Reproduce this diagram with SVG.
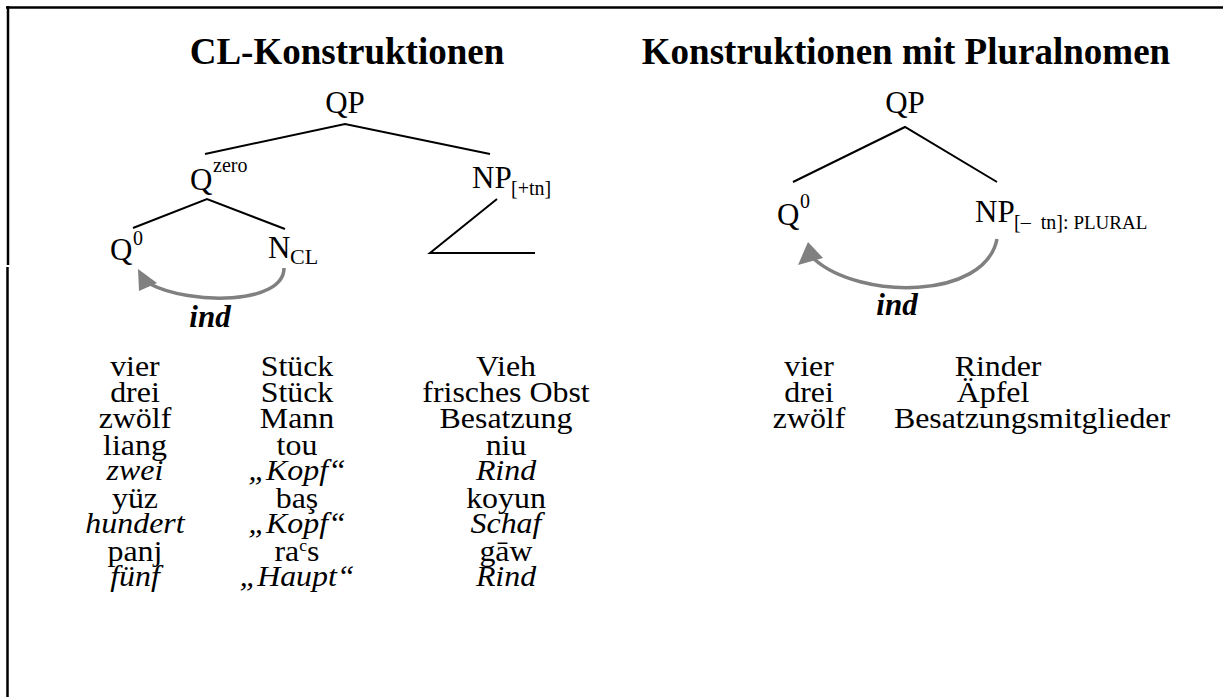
<svg xmlns="http://www.w3.org/2000/svg" width="1223" height="697" viewBox="0 0 1223 697">
<style>
text{font-family:"Liberation Serif","Times New Roman",serif;fill:#000}
.title{font-size:37px;font-weight:bold;text-anchor:middle}
.lbl{font-size:31px}
.sub{font-size:20px}
.sc{font-size:19px}
.ind{font-size:31px;font-weight:bold;font-style:italic;text-anchor:middle}
.row{font-size:29px;text-anchor:middle}
.it{font-style:italic}
.edge{stroke:#000;stroke-width:2;fill:none}
.arr{stroke:#808080;stroke-width:3.5;fill:none}
.head{fill:#808080;stroke:none}
.border{stroke:#000;stroke-width:2.5}
</style>
<g id="frame">
<line class="border" x1="6" y1="7.5" x2="1223" y2="7.5"/>
<line class="border" x1="8" y1="6" x2="8" y2="265"/>
<line class="border" x1="7.5" y1="267" x2="7.5" y2="697"/>
</g>
<g id="titles">
<text class="title" x="347" y="64">CL-Konstruktionen</text>
<text class="title" x="906" y="64">Konstruktionen mit Pluralnomen</text>
</g>
<g id="connectors">
<polyline class="edge" points="205,154 345,124 490,154"/>
<polyline class="edge" points="133,228 207,199 285,229"/>
<polyline class="edge" points="497,199 430,253 535,253"/>
<polyline class="edge" points="793,182 905,127 997,182"/>
<path class="arr" d="M284,268 C284,305 190,305 150,284"/>
<polygon class="head" points="138,269 139,291 157,283"/>
<path class="arr" d="M997,239 C985,300 860,300 814,259"/>
<polygon class="head" points="798,265 808,242 823,258"/>
</g>
<g id="node-qp-left"><text class="lbl" x="345" y="113" text-anchor="middle">QP</text></g>
<g id="node-qzero"><text class="lbl" x="190" y="190">Q</text><text class="sub" x="213" y="172">zero</text></g>
<g id="node-np-left"><text class="lbl" x="472" y="188">NP</text><text class="sub" x="511" y="195">[+tn]</text></g>
<g id="node-q0-left"><text class="lbl" x="110" y="260">Q</text><text class="sub" x="133" y="245">0</text></g>
<g id="node-ncl"><text class="lbl" x="268" y="258">N</text><text class="sub" x="290" y="264" style="font-size:22px">CL</text></g>
<g id="label-ind-left"><text class="ind" x="210" y="327">ind</text></g>
<g id="node-qp-right"><text class="lbl" x="905" y="113" text-anchor="middle">QP</text></g>
<g id="node-q0-right"><text class="lbl" x="777" y="225">Q</text><text class="sub" x="800" y="208">0</text></g>
<g id="node-np-right"><text class="lbl" x="975" y="222">NP</text><text class="sub" x="1014" y="229" style="white-space:pre">[–  tn]: <tspan class="sc">PLURAL</tspan></text></g>
<g id="label-ind-right"><text class="ind" x="897" y="315">ind</text></g>
<g id="table-left" transform="scale(1.1,1)">
<text class="row" x="122.7" y="376">vier</text><text class="row" x="270" y="376">Stück</text><text class="row" x="460" y="376">Vieh</text>
<text class="row" x="122.7" y="402">drei</text><text class="row" x="270" y="402">Stück</text><text class="row" x="460" y="402">frisches Obst</text>
<text class="row" x="122.7" y="428">zwölf</text><text class="row" x="270" y="428">Mann</text><text class="row" x="460" y="428">Besatzung</text>
<text class="row" x="122.7" y="455">liang</text><text class="row" x="270" y="455">tou</text><text class="row" x="460" y="455">niu</text>
<text class="row it" x="122.7" y="480">zwei</text><text class="row it" x="270" y="480">„Kopf“</text><text class="row it" x="460" y="480">Rind</text>
<text class="row" x="122.7" y="508">yüz</text><text class="row" x="270" y="508">baş</text><text class="row" x="460" y="508">koyun</text>
<text class="row it" x="122.7" y="533">hundert</text><text class="row it" x="270" y="533">„Kopf“</text><text class="row it" x="460" y="533">Schaf</text>
<text class="row" x="122.7" y="561">panj</text><text class="row" x="270" y="561">ra<tspan style="font-size:16px" dy="-10">c</tspan><tspan dy="10">s</tspan></text><text class="row" x="460" y="561">gāw</text>
<text class="row it" x="122.7" y="586">fünf</text><text class="row it" x="270" y="586">„Haupt“</text><text class="row it" x="460" y="586">Rind</text>
</g>
<g id="table-right" transform="scale(1.1,1)">
<text class="row" x="735.5" y="376">vier</text><text class="row" x="907.3" y="376">Rinder</text>
<text class="row" x="735.5" y="402">drei</text><text class="row" x="902.7" y="402">Äpfel</text>
<text class="row" x="735.5" y="428">zwölf</text><text class="row" x="938.2" y="428">Besatzungsmitglieder</text>
</g>
</svg>
